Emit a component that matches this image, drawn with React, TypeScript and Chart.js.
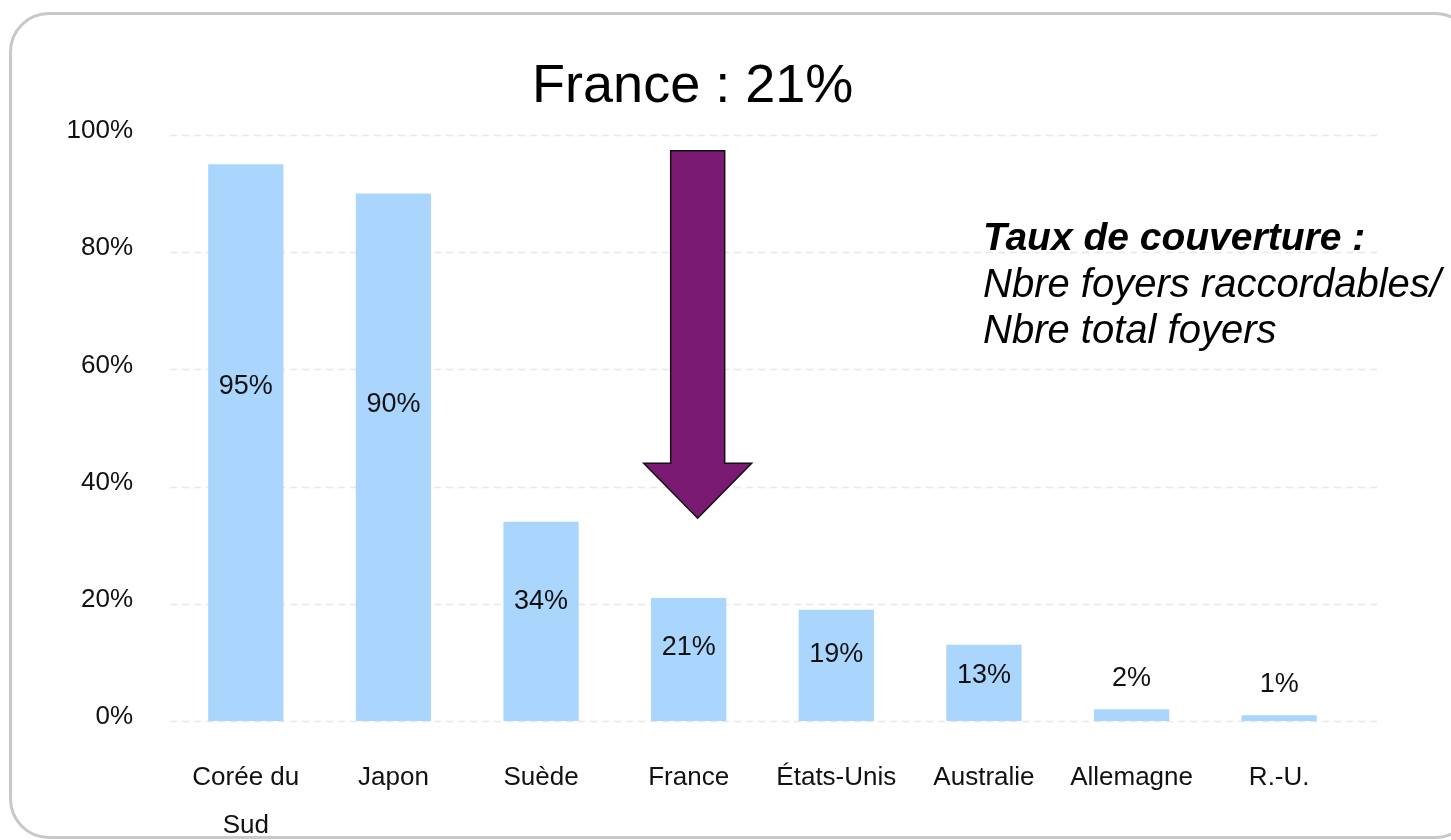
import React, { useEffect, useRef } from "react";
import { Chart, registerables } from "chart.js";

Chart.register(...registerables);

const categories: (string | string[])[] = [
  ["Corée du", "Sud"],
  "Japon",
  "Suède",
  "France",
  "États-Unis",
  "Australie",
  "Allemagne",
  "R.-U.",
];
const values = [95, 90, 34, 21, 19, 13, 2, 1];
const valueLabels = ["95%", "90%", "34%", "21%", "19%", "13%", "2%", "1%"];
const yTickValues = [0, 20, 40, 60, 80, 100];
const titleText = "France : 21%";
const highlightIndex = 3;
const noteLines = ["Taux de couverture :", "Nbre foyers raccordables/", "Nbre total foyers"];

const SANS = "'Liberation Sans', Arial, sans-serif";
const BAR_COLOR = "rgb(170, 214, 253)";
const ARROW_COLOR = "#7a1a73";

const overlayPlugin = {
  id: "overlay",
  beforeDatasetsDraw(chart: any) {
    const ctx = chart.ctx;
    const y = chart.scales.y;
    const area = chart.chartArea;
    ctx.save();
    ctx.strokeStyle = "#e8e8e8";
    ctx.lineWidth = 1.5;
    ctx.setLineDash([7, 5]);
    yTickValues.forEach((t) => {
      const py = Math.round(y.getPixelForValue(t)) + 0.5;
      ctx.beginPath();
      ctx.moveTo(area.left - 2, py);
      ctx.lineTo(area.right + 25, py);
      ctx.stroke();
    });
    ctx.restore();
  },
  afterDatasetsDraw(chart: any) {
    const ctx = chart.ctx;
    const x = chart.scales.x;
    const y = chart.scales.y;
    ctx.save();

    // value labels
    ctx.font = `27px ${SANS}`;
    ctx.fillStyle = "#111";
    ctx.textAlign = "center";
    ctx.textBaseline = "middle";
    values.forEach((v, i) => {
      const pos = v >= 5 ? v * 0.6 : v + 5.2;
      ctx.fillText(valueLabels[i], x.getPixelForValue(i), y.getPixelForValue(pos));
    });

    // title centred over highlighted category
    const cx = x.getPixelForValue(highlightIndex);
    ctx.font = `54px ${SANS}`;
    ctx.fillStyle = "#000";
    ctx.textBaseline = "alphabetic";
    ctx.fillText(titleText, cx + 4, 102);

    // arrow
    const ax = cx + 9;
    const top = y.getPixelForValue(97.3);
    const neck = y.getPixelForValue(44.0);
    const tip = y.getPixelForValue(34.6);
    const sw = 27;
    const hw = 54;
    ctx.beginPath();
    ctx.moveTo(ax - sw, top);
    ctx.lineTo(ax + sw, top);
    ctx.lineTo(ax + sw, neck);
    ctx.lineTo(ax + hw, neck);
    ctx.lineTo(ax, tip);
    ctx.lineTo(ax - hw, neck);
    ctx.lineTo(ax - sw, neck);
    ctx.closePath();
    ctx.fillStyle = ARROW_COLOR;
    ctx.fill();
    ctx.lineWidth = 1.5;
    ctx.strokeStyle = "#111";
    ctx.stroke();

    // note
    ctx.textAlign = "left";
    ctx.fillStyle = "#000";
    ctx.font = `italic bold 39px ${SANS}`;
    ctx.fillText(noteLines[0], 983, 250);
    ctx.font = `italic 40px ${SANS}`;
    ctx.fillText(noteLines[1], 983, 297);
    ctx.fillText(noteLines[2], 983, 343);

    ctx.restore();
  },
};

export default function App() {
  const canvasRef = useRef<HTMLCanvasElement | null>(null);

  useEffect(() => {
    if (!canvasRef.current) return;
    const chart = new Chart(canvasRef.current, {
      type: "bar",
      data: {
        labels: categories,
        datasets: [
          {
            data: values,
            backgroundColor: BAR_COLOR,
            borderWidth: 0,
            barPercentage: 0.51,
            categoryPercentage: 1,
          },
        ],
      },
      options: {
        animation: false,
        responsive: false,
        maintainAspectRatio: false,
        layout: { padding: { top: 135, right: 98, left: 0, bottom: 0 } },
        plugins: {
          legend: { display: false },
          tooltip: { enabled: false },
          title: { display: false },
        },
        scales: {
          x: {
            grid: { display: false, drawTicks: false },
            border: { display: false },
            ticks: {
              color: "#111",
              font: { family: SANS, size: 26, lineHeight: 1.85 },
              padding: 33,
              maxRotation: 0,
              autoSkip: false,
            },
            afterFit(scale: any) {
              scale.height = 119;
            },
          },
          y: {
            min: 0,
            max: 100,
            grid: { display: false, drawTicks: false },
            border: { display: false },
            ticks: {
              stepSize: 20,
              color: "#111",
              font: { family: SANS, size: 26 },
              padding: 39,
              labelOffset: -4,
              callback: (v: any) => `${v}%`,
            },
            afterFit(scale: any) {
              scale.width = 172;
            },
          },
        },
      },
      plugins: [overlayPlugin],
    });
    return () => chart.destroy();
  }, []);

  return (
    <div
      style={{
        position: "absolute",
        left: 0,
        top: 0,
        width: 1451,
        height: 840,
        overflow: "hidden",
        background: "#fff",
      }}
    >
      <div
        style={{
          position: "absolute",
          left: 9,
          top: 12,
          width: 1466,
          height: 827,
          boxSizing: "border-box",
          border: "3px solid #c8c8c8",
          borderRadius: 40,
        }}
      />
      <canvas
        ref={canvasRef}
        width={1451}
        height={840}
        style={{ position: "absolute", left: 0, top: 0, width: 1451, height: 840 }}
      />
    </div>
  );
}
